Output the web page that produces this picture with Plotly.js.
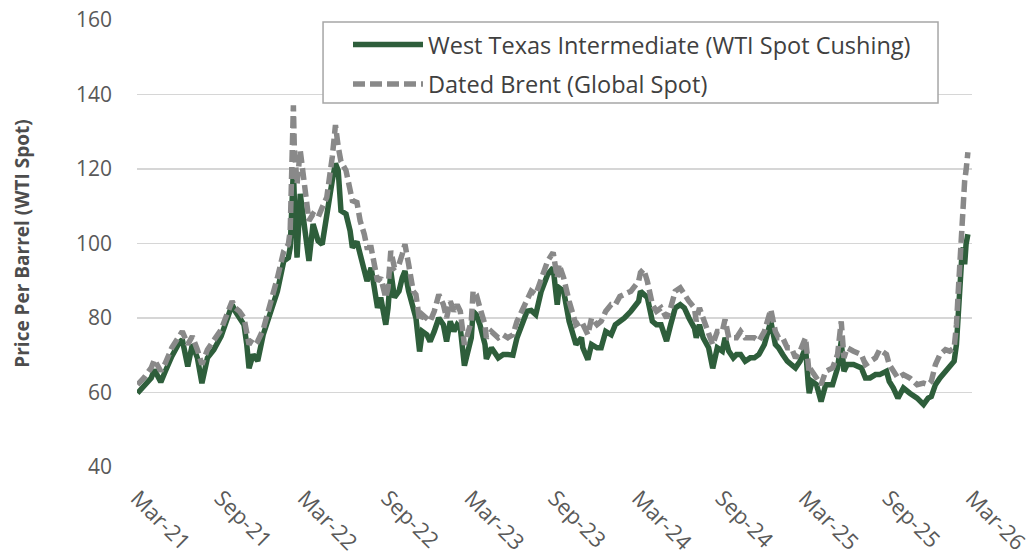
<!DOCTYPE html>
<html>
<head>
<meta charset="utf-8">
<script src="https://cdn.plot.ly/plotly-3.0.1.min.js"></script>
<style>
  html, body { margin: 0; padding: 0; background: #ffffff; }
  #chart { width: 1034px; height: 559px; }
</style>
</head>
<body>
<div id="chart"></div>
<script>
// Dates of the readings
const dates = [
  '2021-04-01','2021-04-15','2021-05-01','2021-05-08','2021-05-22','2021-06-01','2021-06-15','2021-07-01','2021-07-08','2021-07-20',
  '2021-07-30','2021-08-10','2021-08-20','2021-09-01','2021-09-15','2021-10-01','2021-10-15','2021-10-25','2021-11-01','2021-11-10',
  '2021-11-20','2021-11-26','2021-12-01','2021-12-10','2021-12-20',
  '2022-01-01','2022-01-15','2022-02-01','2022-02-15','2022-02-25','2022-03-01','2022-03-04','2022-03-08','2022-03-10','2022-03-16',
  '2022-03-23','2022-04-01','2022-04-11','2022-04-20','2022-05-01','2022-05-10','2022-05-20','2022-06-01','2022-06-08','2022-06-14',
  '2022-06-20','2022-07-01','2022-07-10','2022-07-15','2022-07-25','2022-08-01','2022-08-10','2022-08-16','2022-08-25','2022-09-01',
  '2022-09-08','2022-09-15','2022-09-26','2022-10-01','2022-10-07','2022-10-15','2022-10-25','2022-11-01','2022-11-07','2022-11-15',
  '2022-11-25','2022-12-01','2022-12-09','2022-12-15','2022-12-25',
  '2023-01-01','2023-01-10','2023-01-20','2023-01-30','2023-02-06','2023-02-14','2023-02-22','2023-03-01','2023-03-08','2023-03-17',
  '2023-03-25','2023-04-01','2023-04-05','2023-04-12','2023-04-20','2023-05-01','2023-05-04','2023-05-15','2023-05-30','2023-06-10',
  '2023-06-20','2023-07-01','2023-07-10','2023-07-20','2023-08-01','2023-08-10','2023-08-20','2023-09-01','2023-09-15','2023-09-27',
  '2023-10-01','2023-10-06','2023-10-10','2023-10-20','2023-11-01','2023-11-10','2023-11-16','2023-11-28','2023-12-01','2023-12-12',
  '2023-12-20',
  '2024-01-01','2024-01-10','2024-01-20','2024-02-01','2024-02-10','2024-02-20','2024-03-01','2024-03-15','2024-04-01','2024-04-05',
  '2024-04-12','2024-04-20','2024-05-01','2024-05-10','2024-05-20','2024-06-01','2024-06-10','2024-06-20','2024-07-01','2024-07-10',
  '2024-07-20','2024-08-01','2024-08-05','2024-08-12','2024-08-20','2024-09-01','2024-09-10','2024-09-20','2024-10-01','2024-10-07',
  '2024-10-15','2024-10-25','2024-11-01','2024-11-10','2024-11-20','2024-12-01','2024-12-10','2024-12-20',
  '2025-01-01','2025-01-15','2025-01-25','2025-02-01','2025-02-10','2025-02-20','2025-03-01','2025-03-10','2025-03-20','2025-04-01',
  '2025-04-07','2025-04-09','2025-04-15','2025-04-25','2025-05-05','2025-05-15','2025-05-30','2025-06-10','2025-06-18','2025-06-24',
  '2025-07-01','2025-07-15','2025-08-01','2025-08-10','2025-08-20','2025-09-01','2025-09-10','2025-09-25','2025-10-01','2025-10-10',
  '2025-10-20','2025-11-01','2025-11-15','2025-12-01','2025-12-15','2025-12-25',
  '2026-01-01','2026-01-10','2026-01-20','2026-02-01','2026-02-10','2026-02-20','2026-02-25','2026-03-01','2026-03-05','2026-03-09',
  '2026-03-12','2026-03-15','2026-03-18','2026-03-22'
];

// West Texas Intermediate (WTI Spot Cushing), $/bbl
const wti = [
  59.8,61.6,63.9,66.1,62.8,65.7,69.7,73.3,74.2,67.0,
  72.9,69.3,62.5,69.3,71.5,75.1,80.0,83.6,81.8,80.0,
  78.2,72.9,66.5,70.2,68.5,
  75.5,80.9,87.2,95.3,96.2,98.9,107.0,120.0,112.0,96.2,
  113.3,104.3,95.3,105.2,100.7,99.8,108.8,116.9,121.5,119.6,
  108.8,107.9,103.4,98.9,100.5,97.1,92.6,89.9,93.5,87.2,
  82.7,85.5,78.2,82.7,92.6,85.5,87.2,90.8,92.6,87.2,
  81.8,80.0,71.0,76.4,75.5,
  73.7,76.4,80.0,78.2,73.7,79.1,76.4,78.2,77.3,67.2,
  72.0,74.7,81.8,80.9,78.2,72.9,69.0,72.0,69.3,70.2,
  70.2,70.0,74.7,78.2,81.8,82.0,80.9,87.2,91.7,93.5,
  89.0,83.6,88.1,87.2,79.1,75.5,72.9,74.7,72.0,68.8,
  72.9,
  72.0,72.0,76.4,75.5,78.2,79.1,80.0,81.8,84.5,87.2,
  86.3,85.5,79.1,78.2,78.2,73.8,78.2,82.7,83.6,82.7,
  80.0,77.3,74.7,78.2,74.7,72.0,66.5,72.0,71.1,74.7,
  71.1,69.3,70.2,70.2,68.4,69.3,69.3,70.2,
  72.9,79.1,72.9,72.0,70.2,68.4,67.5,66.6,68.4,72.0,
  62.1,59.8,63.0,62.1,57.6,62.1,62.1,66.6,73.7,65.7,
  67.5,67.5,66.6,63.9,63.9,64.8,64.8,65.7,63.0,61.2,
  58.5,61.2,59.8,58.5,56.8,58.5,
  58.9,62.1,63.9,65.7,66.6,68.4,72.9,82.7,91.7,97.1,
  98.9,94.4,99.8,102.5
];

// Dated Brent (Global Spot), $/bbl
const brent = [
  62.1,63.9,66.6,68.8,65.7,67.9,72.0,75.1,76.4,72.9,
  75.1,71.5,67.5,71.5,73.8,76.9,81.4,84.5,82.7,81.8,
  80.0,75.5,72.9,74.7,73.8,
  76.9,82.7,90.8,98.0,99.8,103.4,118.7,137.1,125.9,116.0,
  125.0,115.1,106.1,107.9,107.0,109.7,112.4,123.2,131.8,126.0,
  122.0,119.6,114.2,111.5,111.0,106.1,102.5,98.9,98.9,93.5,
  89.9,90.8,85.4,88.1,98.0,93.5,94.4,97.1,99.8,94.4,
  87.2,86.3,79.1,80.9,80.0,
  79.1,81.8,86.3,83.6,80.0,84.5,81.8,83.6,81.8,72.8,
  76.4,79.1,87.2,86.3,82.7,78.2,74.7,76.4,74.7,75.5,
  74.7,75.5,79.1,81.8,85.4,87.2,86.3,90.8,95.3,97.6,
  93.5,90.8,94.4,90.8,84.5,80.9,78.2,79.1,78.2,75.5,
  80.0,
  78.2,79.1,81.8,83.6,83.6,85.8,86.3,87.2,89.9,92.2,
  93.1,89.9,83.6,81.8,82.7,80.0,82.7,87.2,88.1,86.3,
  84.5,82.7,79.1,82.7,80.0,75.5,72.8,76.4,76.4,79.6,
  74.7,74.7,74.7,76.4,74.7,74.7,74.7,73.8,
  76.4,82.3,76.4,74.7,74.7,72.0,72.0,69.3,71.1,74.7,
  67.5,65.0,65.7,63.9,62.1,65.7,66.6,70.2,79.1,69.3,
  72.0,71.1,70.2,67.5,68.4,69.3,71.5,70.2,67.5,65.7,
  63.9,64.8,63.9,62.1,62.5,62.1,
  63.0,67.5,70.2,71.5,71.1,72.0,78.2,87.2,98.0,103.4,
  111.5,116.9,119.6,124.5
];

// Axis ticks
const yTicks = [40, 60, 80, 100, 120, 140, 160];
const xTickVals = ['2021-03-31','2021-09-30','2022-03-31','2022-09-30','2023-03-31','2023-09-30',
                   '2024-03-31','2024-09-30','2025-03-31','2025-09-30','2026-03-31'];
const xTickText = ['Mar-21','Sep-21','Mar-22','Sep-22','Mar-23','Sep-23',
                   'Mar-24','Sep-24','Mar-25','Sep-25','Mar-26'];

const seriesNames = ['West Texas Intermediate (WTI Spot Cushing)', 'Dated Brent (Global Spot)'];

const FONT = 'Open Sans, Noto Sans, sans-serif';

const traces = [
  {
    x: dates, y: wti, type: 'scatter', mode: 'lines', name: seriesNames[0], legendgroup: 'g1',
    line: { color: '#2e5e3b', width: 5.5, shape: 'linear' }
  },
  {
    x: dates, y: brent, type: 'scatter', mode: 'lines', name: seriesNames[1], legendgroup: 'g2',
    line: { color: '#898989', width: 5.5, dash: '12px,5px', shape: 'linear' }
  }
];

const layout = {
  width: 1034, height: 559,
  margin: { l: 137, r: 62, t: 20, b: 92, pad: 0 },
  paper_bgcolor: '#ffffff', plot_bgcolor: '#ffffff',
  font: { family: FONT, color: '#595959' },
  showlegend: true,
  legend: {
    x: 0.2527, y: 0.994, xanchor: 'left', yanchor: 'top',
    bgcolor: 'rgba(0,0,0,0)', borderwidth: 0,
    font: { family: FONT, size: 23.5, color: '#404040' },
    itemwidth: 70, tracegroupgap: 6
  },
  shapes: [{
    type: 'rect', xref: 'paper', yref: 'paper', layer: 'above',
    x0: 0.2228, x1: 0.9593, y0: 0.8143, y1: 0.9955,
    line: { color: '#a6a6a6', width: 1.5 }, fillcolor: '#ffffff'
  }],
  xaxis: {
    type: 'date',
    range: ['2021-03-31', '2026-03-31'],
    tickmode: 'array', tickvals: xTickVals, ticktext: xTickText,
    tickangle: 45, tickfont: { family: FONT, size: 22, color: '#595959' },
    showgrid: false, zeroline: false, showline: false, ticks: '',
    ticklabelstandoff: 13
  },
  yaxis: {
    range: [40, 160],
    tickmode: 'array', tickvals: yTicks,
    tickfont: { family: FONT, size: 21, color: '#595959' },
    showgrid: true, gridcolor: '#d6d6d6', gridwidth: 1.5,
    zeroline: false, showline: false, ticks: '',
    ticklabelstandoff: 24,
    title: { text: 'Price Per Barrel (WTI Spot)', font: { family: FONT, size: 19, color: '#4d4d4d', weight: 'bold' }, standoff: 41 }
  }
};

Plotly.newPlot('chart', traces, layout, { staticPlot: true, displayModeBar: false });
</script>
</body>
</html>
